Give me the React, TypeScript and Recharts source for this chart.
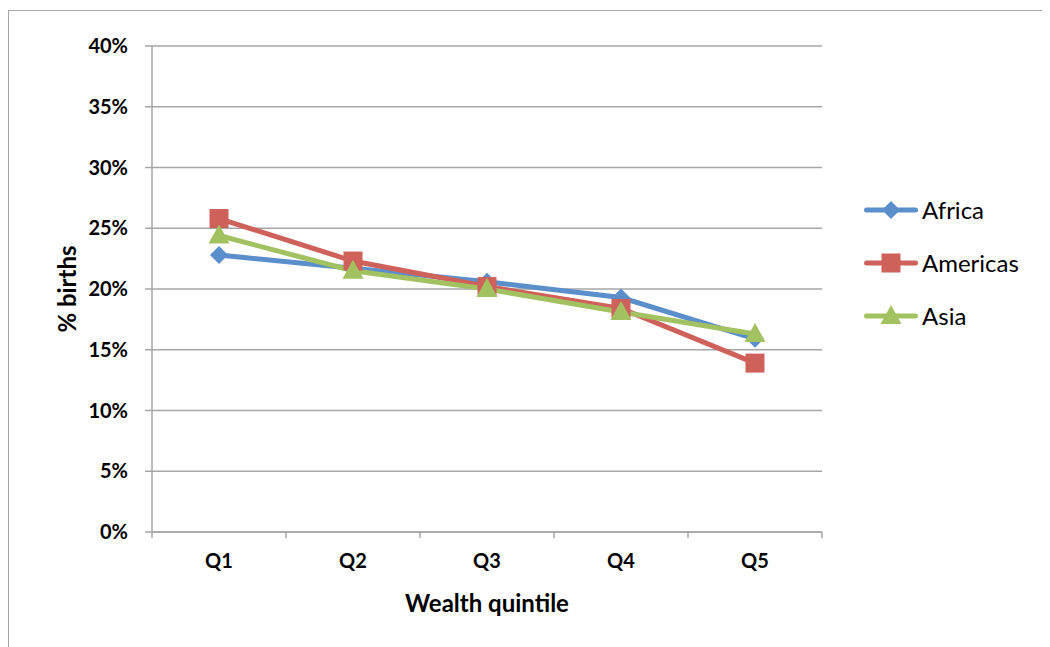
import { LineChart, Line, XAxis, YAxis, CartesianGrid, Label } from "recharts";

const CATEGORIES = ["Q1", "Q2", "Q3", "Q4", "Q5"];
const AFRICA = [22.8, 21.7, 20.6, 19.3, 15.9];
const AMERICAS = [25.8, 22.3, 20.2, 18.4, 13.9];
const ASIA = [24.4, 21.5, 20.0, 18.1, 16.3];
const Y_TICKS = [0, 5, 10, 15, 20, 25, 30, 35, 40];

const SERIES = [
  { key: "Africa", values: AFRICA, color: "#5a8fcb", shape: "diamond" },
  { key: "Americas", values: AMERICAS, color: "#cf615b", shape: "square" },
  { key: "Asia", values: ASIA, color: "#a2c160", shape: "triangle" },
];

const data = CATEGORIES.map((q, i) => ({
  quintile: q,
  Africa: AFRICA[i],
  Americas: AMERICAS[i],
  Asia: ASIA[i],
}));

const FONT = "Lato, 'Open Sans', sans-serif";
const GRAY = "#a6a6a6";
const WIDTH = 1038;
const HEIGHT = 640;
const MARGIN = { top: 35, right: 225, bottom: 39, left: 0 };
const Y_AXIS_W = 143;
const PLOT_W = WIDTH - MARGIN.left - MARGIN.right - Y_AXIS_W;
const BAND = PLOT_W / CATEGORIES.length;
const X_TICK_SIZE = 6;
const X_TICK_MARGIN = 16;
const TITLE_SIZE = 24;

function Marker({ shape, cx, cy, color }: { shape: string; cx: number; cy: number; color: string }) {
  if (shape === "diamond") {
    return (
      <polygon
        points={`${cx},${cy - 9} ${cx + 9},${cy} ${cx},${cy + 9} ${cx - 9},${cy}`}
        fill={color}
      />
    );
  }
  if (shape === "square") {
    return <rect x={cx - 9.5} y={cy - 9.5} width={19} height={19} fill={color} />;
  }
  return (
    <polygon
      points={`${cx},${cy - 11} ${cx + 10.5},${cy + 8} ${cx - 10.5},${cy + 8}`}
      fill={color}
    />
  );
}

function dotFor(shape: string, color: string) {
  return (props: any) => {
    const { cx, cy, index } = props;
    if (cx == null || cy == null) return <g key={`e-${index}`} />;
    return (
      <g key={`${shape}-${index}`}>
        <Marker shape={shape} cx={cx} cy={cy} color={color} />
      </g>
    );
  };
}

// category labels sit in the middle of each band, tick marks on the band edges
function QuintileTick(props: any) {
  const { x, y, payload, index } = props;
  const axisY = y - X_TICK_SIZE - X_TICK_MARGIN;
  const half = BAND / 2;
  return (
    <g>
      <line x1={x - half} x2={x - half} y1={axisY} y2={axisY + X_TICK_SIZE} stroke={GRAY} strokeWidth={1.5} />
      {index === CATEGORIES.length - 1 && (
        <line x1={x + half} x2={x + half} y1={axisY} y2={axisY + X_TICK_SIZE} stroke={GRAY} strokeWidth={1.5} />
      )}
      <text x={x} y={y} dy="0.71em" textAnchor="middle" fontSize={20} fontWeight={700} fill="#000" fontFamily={FONT}>
        {payload.value}
      </text>
    </g>
  );
}

function SideLegend() {
  return (
    <div style={{ position: "absolute", left: 855, top: 172, fontFamily: FONT, fontSize: 24, color: "#000" }}>
      {SERIES.map((s) => (
        <div key={s.key} style={{ display: "flex", alignItems: "center", height: 53 }}>
          <svg width={54} height={24} style={{ display: "block" }}>
            <line x1={2.5} x2={51.5} y1={12} y2={12} stroke={s.color} strokeWidth={5} strokeLinecap="round" />
            <Marker shape={s.shape} cx={27} cy={12} color={s.color} />
          </svg>
          <span style={{ marginLeft: 4 }}>{s.key}</span>
        </div>
      ))}
    </div>
  );
}

export default function App() {
  return (
    <div style={{ paddingTop: 2, fontFamily: FONT }}>
      <div
        style={{
          width: WIDTH,
          height: HEIGHT,
          border: `1px solid ${GRAY}`,
          borderBottom: "none",
          position: "relative",
        }}
      >
        <LineChart width={WIDTH} height={HEIGHT} data={data} margin={MARGIN}>
          <CartesianGrid vertical={false} stroke={GRAY} strokeWidth={1.5} />
          <XAxis
            dataKey="quintile"
            padding={{ left: BAND / 2, right: BAND / 2 }}
            height={80}
            axisLine={{ stroke: GRAY, strokeWidth: 1.5 }}
            tickLine={false}
            tickSize={X_TICK_SIZE}
            tickMargin={X_TICK_MARGIN}
            tick={<QuintileTick />}
            interval={0}
          >
            <Label
              value="Wealth quintile"
              position="bottom"
              offset={-17}
              style={{ fontSize: TITLE_SIZE, fontWeight: 700, fill: "#000", fontFamily: FONT }}
            />
          </XAxis>
          <YAxis
            width={Y_AXIS_W}
            domain={[0, 40]}
            ticks={Y_TICKS}
            interval={0}
            tickFormatter={(v) => `${v}%`}
            axisLine={{ stroke: GRAY, strokeWidth: 1.5 }}
            tickLine={{ stroke: GRAY, strokeWidth: 1.5 }}
            tickSize={7}
            tickMargin={17}
            tick={{ fontSize: 20, fontWeight: 700, fill: "#000", fontFamily: FONT }}
          >
            <Label
              content={(p: any) => {
                const vb = p.viewBox;
                const cx = vb.x + 57;
                const cy = vb.y + vb.height / 2;
                return (
                  <text
                    x={cx}
                    y={cy}
                    transform={`rotate(-90 ${cx} ${cy})`}
                    textAnchor="middle"
                    dominantBaseline="central"
                    fontSize={TITLE_SIZE}
                    fontWeight={700}
                    fontFamily={FONT}
                    fill="#000"
                  >
                    % births
                  </text>
                );
              }}
            />
          </YAxis>
          {SERIES.map((s) => (
            <Line
              key={s.key}
              dataKey={s.key}
              stroke={s.color}
              strokeWidth={5}
              dot={dotFor(s.shape, s.color)}
              activeDot={false}
              isAnimationActive={false}
            />
          ))}
        </LineChart>
        <SideLegend />
      </div>
    </div>
  );
}
